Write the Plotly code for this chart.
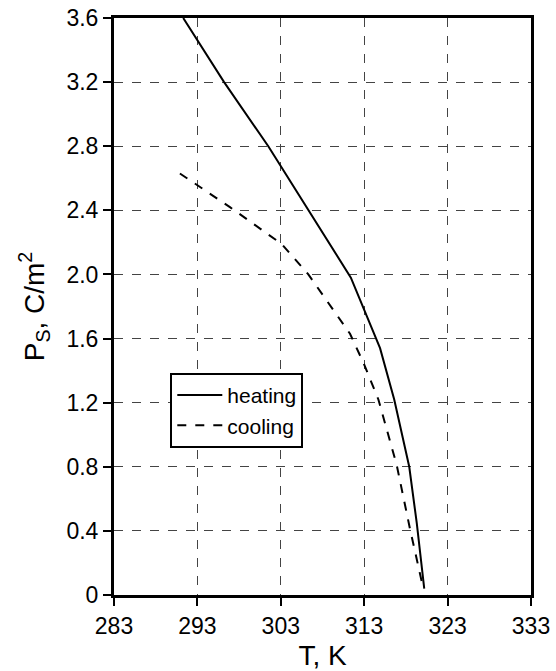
import plotly.graph_objects as go

T_heat = [291.3, 296.2, 301.5, 306.3, 311.4, 314.9, 316.6, 318.4, 319.3, 320.2]
P_heat = [3.6, 3.2, 2.8, 2.4, 1.98, 1.54, 1.22, 0.8, 0.45, 0.04]

T_cool = [290.9, 296.9, 303.1, 305.3, 306.3, 311.3, 312.9, 314.7, 316.9, 318.5, 320.0]
P_cool = [2.63, 2.42, 2.19, 2.06, 2.0, 1.63, 1.45, 1.22, 0.81, 0.41, 0.06]

x_ticks = [283, 293, 303, 313, 323, 333]
y_ticks = [0, 0.4, 0.8, 1.2, 1.6, 2.0, 2.4, 2.8, 3.2, 3.6]
y_labels = ["0", "0.4", "0.8", "1.2", "1.6", "2.0", "2.4", "2.8", "3.2", "3.6"]

fig = go.Figure()
fig.add_trace(go.Scatter(x=T_heat, y=P_heat, mode="lines", name="heating",
                         line=dict(color="black", width=2)))
fig.add_trace(go.Scatter(x=T_cool, y=P_cool, mode="lines", name="cooling",
                         line=dict(color="black", width=2, dash="dash")))

font = "Liberation Sans, Arial, sans-serif"
fig.update_layout(
    width=556, height=671,
    margin=dict(l=114, r=25, t=18, b=76, autoexpand=False),
    paper_bgcolor="white", plot_bgcolor="white",
    font=dict(family=font, size=23, color="black"),
    legend=dict(x=0.135, y=0.385, xanchor="left", yanchor="top",
                bgcolor="white", bordercolor="black", borderwidth=2,
                itemwidth=45, font=dict(size=21, family=font), tracegroupgap=0),
    xaxis=dict(range=[283, 333], tickvals=x_ticks, ticks="outside", ticklen=8,
               tickwidth=2, tickcolor="black", showline=True, linecolor="black",
               linewidth=3, mirror=True, showgrid=True, gridcolor="#444",
               griddash="dash", gridwidth=1, zeroline=False, automargin=False,
               tickfont=dict(size=23),
               title=dict(text="T, K", font=dict(size=28), standoff=8)),
    yaxis=dict(range=[0, 3.6], tickvals=y_ticks, ticktext=y_labels, ticks="outside",
               ticklen=8, tickwidth=2, tickcolor="black", showline=True,
               linecolor="black", linewidth=3, mirror=True, showgrid=True,
               gridcolor="#444", griddash="dash", gridwidth=1, zeroline=False,
               automargin=False, tickfont=dict(size=23),
               title=dict(text="P<sub>S</sub>, C/m<sup>2</sup>", font=dict(size=28),
                          standoff=14)),
)
fig.write_html("out.html", config={"displayModeBar": False},
               post_script="document.body.style.margin='0';")
